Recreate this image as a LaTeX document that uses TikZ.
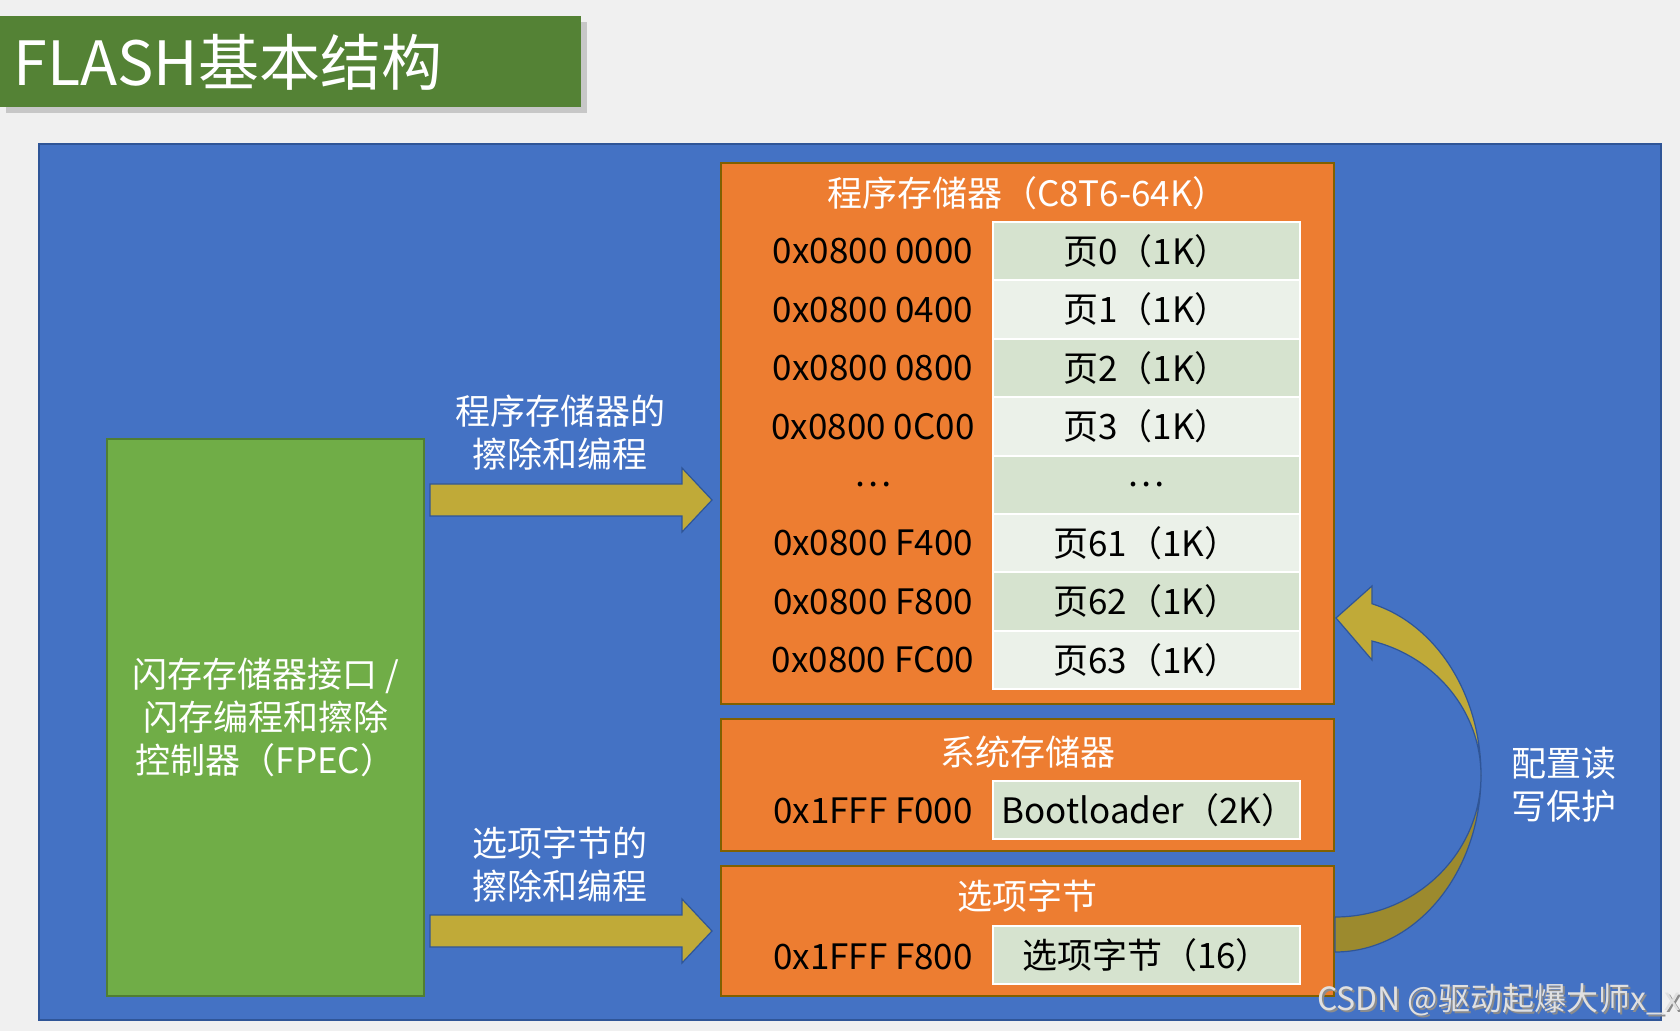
\documentclass[tikz,border=0pt]{standalone}
\usepackage{fontspec}
\setmainfont{Noto Sans CJK SC}
\usetikzlibrary{calc}
\definecolor{slidebg}{HTML}{F0F0F0}
\definecolor{titlegreen}{HTML}{548235}
\definecolor{bluefill}{HTML}{4472C4}
\definecolor{blueline}{HTML}{2F5597}
\definecolor{orgfill}{HTML}{ED7D31}
\definecolor{orgline}{HTML}{806000}
\definecolor{fpecfill}{HTML}{70AD47}
\definecolor{fpecline}{HTML}{507E32}
\definecolor{cellA}{HTML}{D6E3CF}
\definecolor{cellB}{HTML}{EBF1E9}
\definecolor{arrowfill}{HTML}{C0AA38}
\definecolor{arrowdark}{HTML}{9C8A2E}
\begin{document}
\begin{tikzpicture}[x=0.5pt,y=-0.5pt,
  box/.style={draw=orgline,fill=orgfill,line width=1pt,minimum width=306.5pt,inner sep=0pt},
  cell/.style={draw=white,line width=1pt,minimum width=153.5pt,minimum height=29.2pt,inner sep=0pt,font=\fontsize{17.5}{21}\selectfont},
  addr/.style={text=black,font=\fontsize{17.5}{21}\selectfont},
  head/.style={text=white,font=\fontsize{17.5}{21}\selectfont},
  note/.style={text=white,align=center,font=\fontsize{17.5}{21.5}\selectfont},
  flat/.style={draw=blueline,fill=arrowfill,line width=0.6pt}]
   \useasboundingbox (0,0) rectangle (1680,1031);
   \fill[slidebg] (0,0) rectangle (1680,1031);
   %title
   \fill[black!22] (6,22) rectangle (587,113);
   \node[fill=titlegreen,minimum width=290.5pt,minimum height=45.5pt,anchor=north west,inner sep=0pt] (title) at (0,16) {};
   \node[anchor=west,text=white,font=\fontsize{30.5}{34}\selectfont,inner sep=0pt] (titletext) at ([xshift=6.5pt]title.west) {FLASH基本结构};
   %panel
   \draw[blueline,fill=bluefill,line width=1pt] (39,144) rectangle (1661,1020);
   %controller
   \node[draw=fpecline,fill=fpecfill,line width=1pt,minimum width=158.5pt,minimum height=278.5pt,note] (fpec) at (265.5,717.5) {闪存存储器接口 /\\闪存编程和擦除\\控制器（FPEC）};
   %program memory
   \node[box,minimum height=270.5pt] (prog) at (1027.5,433.5) {};
   \node[head] (progtitle) at (1027.5,193) {程序存储器（C8T6-64K）};
   \foreach \addr/\pg/\shade [count=\i from 0] in {0x0800 0000/页0（1K）/cellA, 0x0800 0400/页1（1K）/cellB,
       0x0800 0800/页2（1K）/cellA, 0x0800 0C00/页3（1K）/cellB, \ldots/\ldots/cellA,
       0x0800 F400/页61（1K）/cellB, 0x0800 F800/页62（1K）/cellA, 0x0800 FC00/页63（1K）/cellB}{
     \node[cell,fill=\shade] (p\i) at (1146.5,251.2+58.4*\i) {\pg};
     \node[addr] (a\i) at (873,251.2+58.4*\i) {\addr};
   }
   %system memory
   \node[box,minimum height=66pt] (sys) at (1027.5,785) {};
   \node[head] (systitle) at (1027.5,752) {系统存储器};
   \node[addr] (sysaddr) at (873,811) {0x1FFF F000};
   \node[cell,fill=cellA,text width=145pt,align=left,inner xsep=4pt] (boot) at (1146.5,810) {Bootloader（2K）};
   %option bytes
   \node[box,minimum height=65pt] (opt) at (1027.5,931) {};
   \node[head] (opttitle) at (1027.5,896) {选项字节};
   \node[addr] (optaddr) at (873,957) {0x1FFF F800};
   \node[cell,fill=cellA] (optcell) at (1146.5,955) {选项字节（16）};
   %block arrows
   \foreach \y/\dst in {500/prog,931/opt}{
     \coordinate (s) at ($(fpec.east |- 0,\y)+(5,0)$);
     \coordinate (e) at ($(\dst.west |- 0,\y)+(-8,0)$);
     \draw[flat] ($(s)+(0,-16)$) -- ($(e)+(-30,-16)$) -- ($(e)+(-30,-32)$) -- (e)
       -- ($(e)+(-30,32)$) -- ($(e)+(-30,16)$) -- ($(s)+(0,16)$) -- cycle;
   }
   \node[note] (lab1) at (560,433) {程序存储器的\\擦除和编程};
   \node[note] (lab2) at (560,865) {选项字节的\\擦除和编程};
   %curved arrow
   \coordinate (wp) at (opt.east |- 0,775);
   \begin{scope}[shift={(wp)}]
     \draw[flat,fill=arrowdark] (0,142) arc[x radius=146,y radius=142,start angle=90,end angle=0]
       arc[x radius=146,y radius=177,start angle=0,end angle=90] -- cycle;
     \draw[flat] (146,0) arc[x radius=146,y radius=177,start angle=0,end angle=-75.3]
       -- (37,-189) -- (1,-157) -- (37,-115) -- (37,-134)
       arc[x radius=146,y radius=139,start angle=-75.3,end angle=0] -- cycle;
   \end{scope}
   \node[note,align=left] (lab3) at (1564,785) {配置读\\写保护};
   %watermark
   \node[anchor=west,text=black!45,font=\fontsize{16}{18}\selectfont] at (1312,1002) {CSDN @驱动起爆大师x\_x};
   \node[anchor=west,text=white!88!black,font=\fontsize{16}{18}\selectfont] (mark) at (1310,1000) {CSDN @驱动起爆大师x\_x};
\end{tikzpicture}
\end{document}
